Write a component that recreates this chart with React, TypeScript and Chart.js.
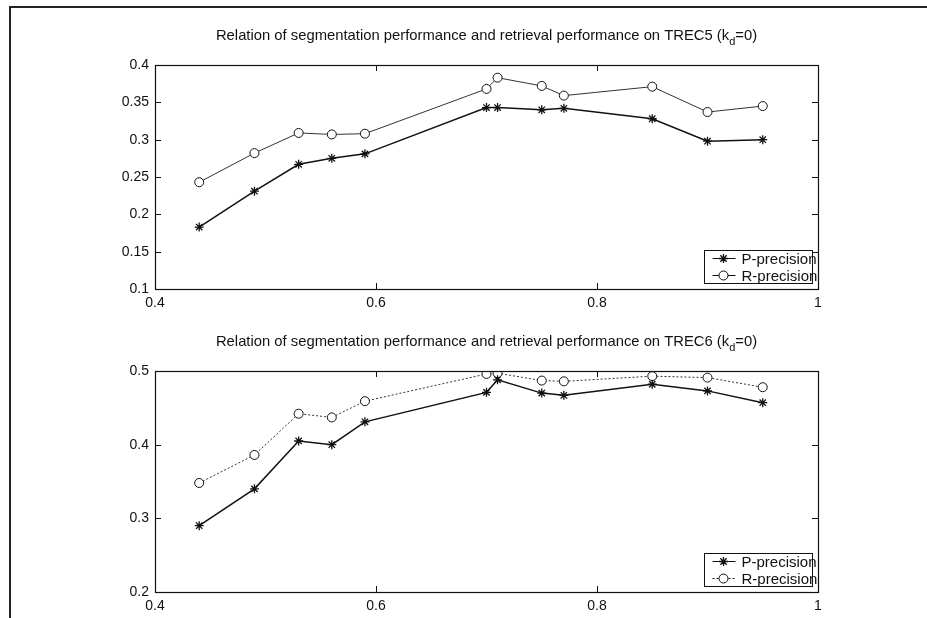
import React, { useEffect, useRef } from "react";
import { Chart, registerables } from "chart.js";

Chart.register(...registerables);

// ---- data ----
const xValues = [0.44, 0.49, 0.53, 0.56, 0.59, 0.70, 0.71, 0.75, 0.77, 0.85, 0.90, 0.95];
const trec5P = [0.183, 0.231, 0.267, 0.275, 0.281, 0.343, 0.343, 0.340, 0.342, 0.328, 0.298, 0.300];
const trec5R = [0.243, 0.282, 0.309, 0.307, 0.308, 0.368, 0.383, 0.372, 0.359, 0.371, 0.337, 0.345];
const trec6P = [0.290, 0.340, 0.405, 0.400, 0.431, 0.471, 0.488, 0.470, 0.467, 0.482, 0.473, 0.457];
const trec6R = [0.348, 0.386, 0.442, 0.437, 0.459, 0.496, 0.497, 0.487, 0.486, 0.493, 0.491, 0.478];

const xTicks = [0.4, 0.6, 0.8, 1];
const xTickLabels = ["0.4", "0.6", "0.8", "1"];
const yTicks5 = [0.1, 0.15, 0.2, 0.25, 0.3, 0.35, 0.4];
const yTickLabels5 = ["0.1", "0.15", "0.2", "0.25", "0.3", "0.35", "0.4"];
const yTicks6 = [0.2, 0.3, 0.4, 0.5];
const yTickLabels6 = ["0.2", "0.3", "0.4", "0.5"];
const legendLabels = ["P-precision", "R-precision"];
const title5 = ["Relation of segmentation performance and retrieval performance on TREC5 (k", "d", "=0)"];
const title6 = ["Relation of segmentation performance and retrieval performance on TREC6 (k", "d", "=0)"];

const FONT = "'Liberation Sans', Arial, Helvetica, sans-serif";
const INK = "#111";

type PanelProps = {
  top: number;
  padTop: number;
  padBottom: number;
  p: number[];
  r: number[];
  yMin: number;
  yMax: number;
  yTicks: number[];
  yTickLabels: string[];
  title: string[];
  rDash: number[];
};

function makePlugin(title: string[], rDash: number[]) {
  return {
    id: "figureDecor",
    afterDraw(chart: any) {
      const ctx = chart.ctx as CanvasRenderingContext2D;
      const a = chart.chartArea;
      const xs = chart.scales.x;
      const ys = chart.scales.y;
      ctx.save();
      // axes box
      ctx.strokeStyle = INK;
      ctx.lineWidth = 1.2;
      ctx.strokeRect(Math.round(a.left) + 0.5, Math.round(a.top) + 0.5, Math.round(a.right - a.left), Math.round(a.bottom - a.top));
      // inner ticks
      const tl = 6;
      ctx.lineWidth = 1;
      ctx.beginPath();
      xs.ticks.forEach((t: any) => {
        const px = Math.round(xs.getPixelForValue(t.value)) + 0.5;
        ctx.moveTo(px, a.bottom);
        ctx.lineTo(px, a.bottom - tl);
        ctx.moveTo(px, a.top);
        ctx.lineTo(px, a.top + tl);
      });
      ys.ticks.forEach((t: any) => {
        const py = Math.round(ys.getPixelForValue(t.value)) + 0.5;
        ctx.moveTo(a.left, py);
        ctx.lineTo(a.left + tl, py);
        ctx.moveTo(a.right, py);
        ctx.lineTo(a.right - tl, py);
      });
      ctx.stroke();

      // title with subscript
      ctx.fillStyle = INK;
      ctx.textBaseline = "middle";
      ctx.textAlign = "left";
      const mainFont = `14.8px ${FONT}`;
      const subFont = `11px ${FONT}`;
      ctx.font = mainFont;
      const w1 = ctx.measureText(title[0]).width;
      const w3 = ctx.measureText(title[2]).width;
      ctx.font = subFont;
      const w2 = ctx.measureText(title[1]).width;
      const total = w1 + w2 + w3;
      const cx = (a.left + a.right) / 2;
      let tx = cx - total / 2;
      const ty = a.top - 29;
      ctx.font = mainFont;
      ctx.fillText(title[0], tx, ty);
      tx += w1;
      ctx.font = subFont;
      ctx.fillText(title[1], tx, ty + 6);
      tx += w2;
      ctx.font = mainFont;
      ctx.fillText(title[2], tx, ty);

      // legend
      const boxW = 108;
      const boxH = 33;
      const bx = Math.round(a.right - 6 - boxW) + 0.5;
      const by = Math.round(a.bottom - 6 - boxH) + 0.5;
      ctx.fillStyle = "#fff";
      ctx.fillRect(bx, by, boxW, boxH);
      ctx.font = `15px ${FONT}`;
      ctx.fillStyle = INK;
      const rows = [
        { y: by + 8, dash: [] as number[], style: "star" },
        { y: by + 25, dash: rDash, style: "circle" },
      ];
      rows.forEach((row, i) => {
        ctx.strokeStyle = INK;
        ctx.lineWidth = 1;
        ctx.setLineDash(row.dash);
        ctx.beginPath();
        ctx.moveTo(bx + 8, row.y);
        ctx.lineTo(bx + 31, row.y);
        ctx.stroke();
        ctx.setLineDash([]);
        const mx = bx + 19;
        if (row.style === "star") {
          ctx.beginPath();
          const rr = 4.5;
          for (let k = 0; k < 4; k++) {
            const ang = (k * Math.PI) / 4;
            ctx.moveTo(mx + rr * Math.cos(ang), row.y + rr * Math.sin(ang));
            ctx.lineTo(mx - rr * Math.cos(ang), row.y - rr * Math.sin(ang));
          }
          ctx.lineWidth = 1.3;
          ctx.stroke();
        } else {
          ctx.beginPath();
          ctx.arc(mx, row.y, 4.5, 0, Math.PI * 2);
          ctx.fillStyle = "#fff";
          ctx.fill();
          ctx.stroke();
        }
        ctx.fillStyle = INK;
        ctx.textBaseline = "middle";
        ctx.fillText(legendLabels[i], bx + 37, row.y + 1);
      });
      ctx.strokeStyle = INK;
      ctx.lineWidth = 1;
      ctx.strokeRect(bx, by, boxW, boxH);
      ctx.restore();
    },
  };
}

function Panel(props: PanelProps) {
  const ref = useRef<HTMLCanvasElement | null>(null);
  useEffect(() => {
    if (!ref.current) return;
    const tickFont = { family: FONT, size: 14 };
    const chart = new Chart(ref.current, {
      type: "line",
      data: {
        datasets: [
          {
            label: legendLabels[0],
            data: xValues.map((x, i) => ({ x, y: props.p[i] })),
            borderColor: INK,
            borderWidth: 1.5,
            pointStyle: "star",
            pointRadius: 4.5,
            pointBorderColor: INK,
            pointBorderWidth: 1.3,
            pointBackgroundColor: INK,
            fill: false,
            tension: 0,
          },
          {
            label: legendLabels[1],
            data: xValues.map((x, i) => ({ x, y: props.r[i] })),
            borderColor: "#333",
            borderWidth: 1,
            borderDash: props.rDash,
            pointStyle: "circle",
            pointRadius: 4.5,
            pointBorderColor: INK,
            pointBorderWidth: 1,
            pointBackgroundColor: "#fff",
            fill: false,
            tension: 0,
          },
        ],
      },
      options: {
        animation: false,
        responsive: false,
        maintainAspectRatio: false,
        layout: { padding: { left: 0, right: 109, top: props.padTop, bottom: props.padBottom } },
        plugins: {
          legend: { display: false },
          title: { display: false },
          tooltip: { enabled: false },
        },
        scales: {
          x: {
            type: "linear",
            min: 0.4,
            max: 1,
            afterBuildTicks: (s: any) => {
              s.ticks = xTicks.map((v) => ({ value: v }));
            },
            afterFit: (s: any) => {
              s.height = 20;
            },
            ticks: {
              callback: (_v: any, i: number) => xTickLabels[i],
              color: INK,
              font: tickFont,
              padding: 6,
              maxRotation: 0,
              autoSkip: false,
            },
            grid: { display: false, drawTicks: false },
            border: { display: false },
          },
          y: {
            type: "linear",
            min: props.yMin,
            max: props.yMax,
            afterBuildTicks: (s: any) => {
              s.ticks = props.yTicks.map((v) => ({ value: v }));
            },
            afterFit: (s: any) => {
              s.width = 155;
            },
            ticks: {
              callback: (_v: any, i: number) => props.yTickLabels[i],
              color: INK,
              font: tickFont,
              padding: 6,
              autoSkip: false,
            },
            grid: { display: false, drawTicks: false },
            border: { display: false },
          },
        },
      },
      plugins: [makePlugin(props.title, props.rDash)],
    } as any);
    return () => chart.destroy();
  }, []);
  return (
    <canvas
      ref={ref}
      width={927}
      height={309}
      style={{ position: "absolute", left: 0, top: props.top, width: 927, height: 309 }}
    />
  );
}

export default function App() {
  return (
    <div style={{ position: "absolute", left: 0, top: 0, width: 927, height: 618, background: "#fff", overflow: "hidden" }}>
      <div
        style={{
          position: "absolute",
          left: 9,
          top: 6,
          width: 930,
          height: 620,
          borderTop: "2px solid #222",
          borderLeft: "2px solid #222",
        }}
      />
      <Panel
        top={0}
        padTop={65}
        padBottom={0}
        p={trec5P}
        r={trec5R}
        yMin={0.1}
        yMax={0.4}
        yTicks={yTicks5}
        yTickLabels={yTickLabels5}
        title={title5}
        rDash={[]}
      />
      <Panel
        top={309}
        padTop={62}
        padBottom={6}
        p={trec6P}
        r={trec6R}
        yMin={0.2}
        yMax={0.5}
        yTicks={yTicks6}
        yTickLabels={yTickLabels6}
        title={title6}
        rDash={[2, 2]}
      />
    </div>
  );
}
